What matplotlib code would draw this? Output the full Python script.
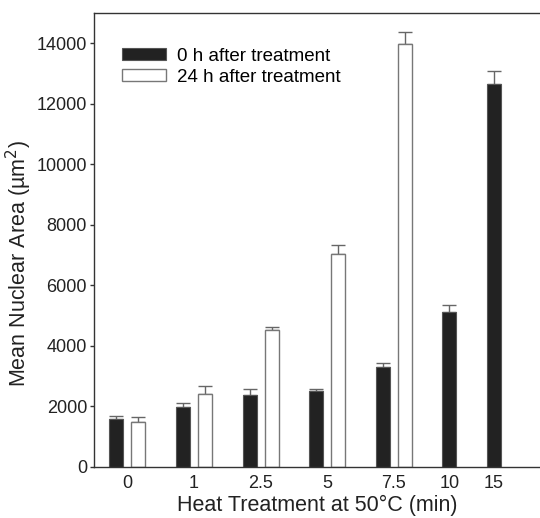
import matplotlib
matplotlib.use('Agg')
import matplotlib.pyplot as plt

plt.rcParams['font.family'] = ['Liberation Sans', 'DejaVu Sans']

# heat treatment durations (min) and mean nuclear area (um^2)
labels = ['0', '1', '2.5', '5', '7.5', '10', '15']
area_0h = [1600, 1970, 2390, 2510, 3290, 5120, 12640]
err_0h = [80, 150, 190, 70, 150, 220, 450]
area_24h = [1480, 2410, 4540, 7040, 13980]
err_24h = [185, 275, 80, 280, 380]

# group centres on the x axis
group_x = [0, 1, 2, 3, 4, 4.83, 5.5]
offset = 0.165
width = 0.21

fig = plt.figure(figsize=(5.4, 5.18), dpi=100)
axes = fig.add_axes([0.174, 0.0985, 0.826, 0.8765])

x_black = [g - offset if i < len(area_24h) else g for i, g in enumerate(group_x)]
x_white = [g + offset for g in group_x[:len(area_24h)]]

axes.bar(x_black, area_0h, width=width, color='#222222', edgecolor='#555555',
         linewidth=0.8, label='0 h after treatment', zorder=2)
axes.bar(x_white, area_24h, width=width, color='white', edgecolor='#777777',
         linewidth=1.0, label='24 h after treatment', zorder=2)

axes.errorbar(x_black, area_0h, yerr=[[0] * len(err_0h), err_0h], fmt='none',
              ecolor='#666666', elinewidth=1.0, capsize=4.7, capthick=1.0, zorder=1)
axes.errorbar(x_white, area_24h, yerr=[[0] * len(err_24h), err_24h], fmt='none',
              ecolor='#666666', elinewidth=1.0, capsize=4.7, capthick=1.0, zorder=1)

axes.set_xlim(-0.5, 6.19)
axes.set_ylim(0, 15000)
axes.set_yticks(range(0, 14001, 2000))
axes.set_xticks(group_x)
axes.set_xticklabels(labels)
axes.tick_params(axis='x', length=0, labelsize=13, colors='#222222', pad=6)
axes.tick_params(axis='y', length=3, width=1, colors='#333333', labelsize=13,
                 labelcolor='#222222', direction='out', pad=2)
axes.spines['right'].set_visible(False)
for side in ('left', 'top', 'bottom'):
    axes.spines[side].set_color('#333333')
    axes.spines[side].set_linewidth(1.0)

axes.set_xlabel('Heat Treatment at 50\u00b0C (min)', fontsize=15.5, color='#222222', labelpad=2)
axes.set_ylabel('Mean Nuclear Area (\u00b5m$^2$)', fontsize=15.5, color='#222222')
axes.yaxis.set_label_coords(-0.135, 0.447)

axes.legend(loc='upper left', bbox_to_anchor=(0.063, 0.923), frameon=False, fontsize=13.5,
            borderpad=0, borderaxespad=0, handlelength=2.35, handleheight=0.6,
            handletextpad=0.6, labelspacing=0.2)

fig.savefig('out.png', dpi=100)
